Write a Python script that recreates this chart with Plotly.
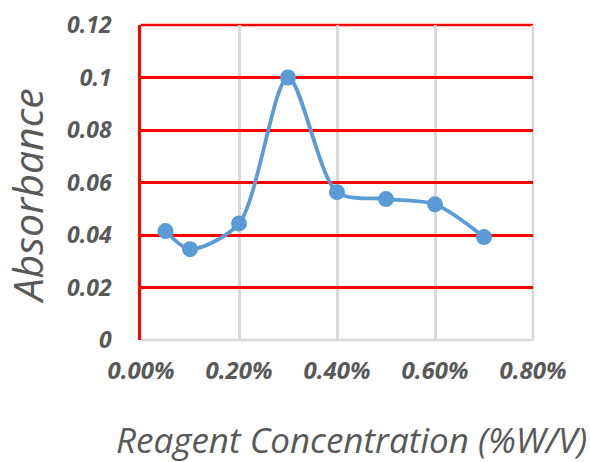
import plotly.graph_objects as go

conc = [0.0005, 0.001, 0.002, 0.003, 0.004, 0.005, 0.006, 0.007]
absorbance = [0.0415, 0.0346, 0.0444, 0.100, 0.0563, 0.0537, 0.0517, 0.0392]
x_ticks = [0, 0.002, 0.004, 0.006, 0.008]
y_ticks = [0, 0.02, 0.04, 0.06, 0.08, 0.1, 0.12]
y_tick_text = ["0", "0.02", "0.04", "0.06", "0.08", "0.1", "0.12"]

grey = "#595959"
font_fam = "Open Sans"

fig = go.Figure()
fig.add_trace(go.Scatter(
    x=conc, y=absorbance, mode="lines+markers",
    line=dict(color="#5B9BD5", width=3.8, shape="spline", smoothing=0.8),
    marker=dict(color="#5B9BD5", size=16),
    showlegend=False, cliponaxis=False,
))

# frame lines at the edges of the plot area (plotly hides grid at range ends)
fig.add_shape(type="line", xref="paper", yref="paper", x0=0, x1=1, y0=1, y1=1,
              line=dict(color="#FF0000", width=2.5), layer="below")
fig.add_shape(type="line", xref="paper", yref="paper", x0=1, x1=1, y0=0, y1=1,
              line=dict(color="#D9D9D9", width=2.5), layer="below")
fig.add_shape(type="line", xref="paper", yref="paper", x0=0, x1=1, y0=0, y1=0,
              line=dict(color="#D9D9D9", width=2.5), layer="below")

fig.update_layout(
    width=590, height=462,
    margin=dict(l=141, r=57, t=25, b=122, autoexpand=False),
    paper_bgcolor="white", plot_bgcolor="white",
    xaxis=dict(
        range=[0, 0.008], tickvals=x_ticks, tickformat=".2%",
        showgrid=True, gridcolor="#D9D9D9", gridwidth=2.5,
        showline=False, automargin=False,
        zeroline=False, ticks="", ticklabelstandoff=14,
        tickfont=dict(family=font_fam, size=24, color=grey, weight="bold", style="italic"),
    ),
    yaxis=dict(
        range=[0, 0.12], tickvals=y_ticks, ticktext=y_tick_text,
        showgrid=True, gridcolor="#FF0000", gridwidth=2.5,
        showline=True, linecolor="#FF0000", linewidth=2.5, automargin=False,
        zeroline=False, ticks="", ticklabelstandoff=22,
        tickfont=dict(family=font_fam, size=23, color=grey, weight="bold", style="italic"),
    ),
    annotations=[
        dict(text="Reagent Concentration (%W/V)", xref="paper", yref="paper",
             x=0.538, y=-0.317, xanchor="center", yanchor="middle", showarrow=False,
             font=dict(family=font_fam, size=35, color=grey, style="italic")),
        dict(text="Absorbance", xref="paper", yref="paper", textangle=-90,
             x=-0.29, y=0.457, xanchor="center", yanchor="middle", showarrow=False,
             font=dict(family=font_fam, size=41, color=grey, style="italic")),
    ],
)

fig.write_html("out.html")
